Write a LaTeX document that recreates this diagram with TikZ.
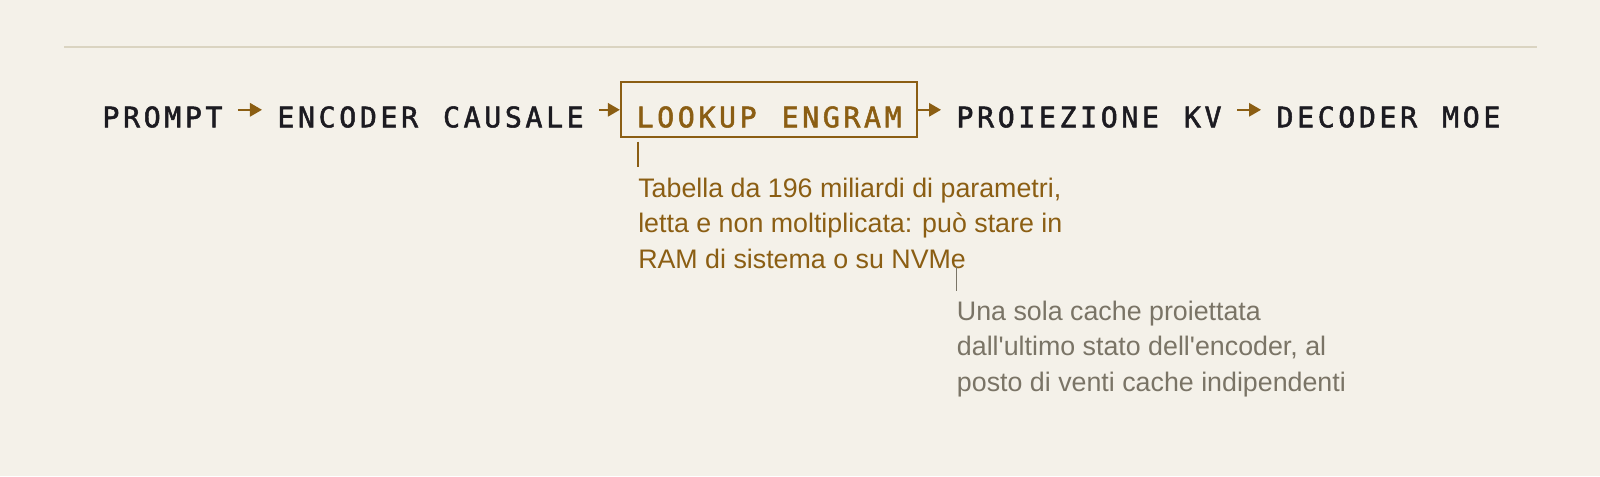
\documentclass[tikz,border=0pt]{standalone}
\usepackage{fontspec}
\usepackage{tikz}
\usetikzlibrary{positioning,arrows.meta}

\newfontfamily\stagefont{DejaVu Sans Mono}[LetterSpace=12.7, WordSpace=1.21, FakeBold=1.8]
\newfontfamily\notefont{Liberation Sans}

\definecolor{paper}{HTML}{F4F1E9}
\definecolor{rulecol}{HTML}{DAD4C1}
\definecolor{ochre}{HTML}{8B5E13}
\definecolor{ink}{HTML}{1C1B21}
\definecolor{stone}{HTML}{7A7466}

\tikzset{
    stage/.style={font=\stagefont\fontsize{21.2pt}{25pt}\selectfont, text=ink,
        inner xsep=11.4pt, inner ysep=6pt, text height=27.75pt, text depth=1.5pt},
    engram/.style={stage, draw=ochre, line width=1.5pt, text=ochre, inner xsep=11.8pt},
    flow/.style={draw=ochre, line width=1.5pt, -{Triangle[length=9pt,width=10pt]}},
    note/.style={font=\notefont\fontsize{20.1pt}{26.6pt}\selectfont, align=left, inner sep=0pt},
    tick/.style={line width=1.4pt}
}

\begin{document}
\begin{tikzpicture}[x=0.75pt,y=-0.75pt]
    % Background and top rule
    \fill[paper] (0,0) rectangle (1600,476);
    \useasboundingbox (0,0) rectangle (1600,476);
    \draw[rulecol, line width=1.5pt] (64,47) -- (1537,47);

    % Pipeline stages
    \node[stage, anchor=west] (prompt) at (87,109.8) {PROMPT};
    \node[stage, right=18pt of prompt] (encoder) {ENCODER CAUSALE};
    \node[engram, right=15.5pt of encoder] (lookup) {LOOKUP ENGRAM};
    \node[stage, right=17pt of lookup] (kv) {PROIEZIONE KV};
    \node[stage, right=18pt of kv] (decoder) {DECODER MOE};

    % Arrows between stages
    \foreach \a/\b in {prompt/encoder, encoder/lookup, lookup/kv, kv/decoder} {
        \draw[flow] (\a) -- (\b);
    }

    % Note on the engram table (base = last line)
    \coordinate (tableTop) at (638,141.7);
    \coordinate (tableEnd) at (638,166.7);
    \draw[tick, ochre] (tableTop) -- (tableEnd);
    \node[note, text=ochre, anchor=base west] (table) at (638,268.3)
        {Tabella da 196 miliardi di parametri,\\letta e non moltiplicata: può stare in\\RAM di sistema o su NVMe};

    % Note on the KV projection
    \coordinate (cacheTop) at (956.7,266);
    \coordinate (cacheEnd) at (956.7,290.7);
    \draw[tick, stone, line width=1.1pt] (cacheTop) -- (cacheEnd);
    \node[note, text=stone, anchor=base west] (cache) at (956.7,391)
        {Una sola cache proiettata\\dall\textquotesingle ultimo stato dell\textquotesingle encoder, al\\posto di venti cache indipendenti};
\end{tikzpicture}
\end{document}
